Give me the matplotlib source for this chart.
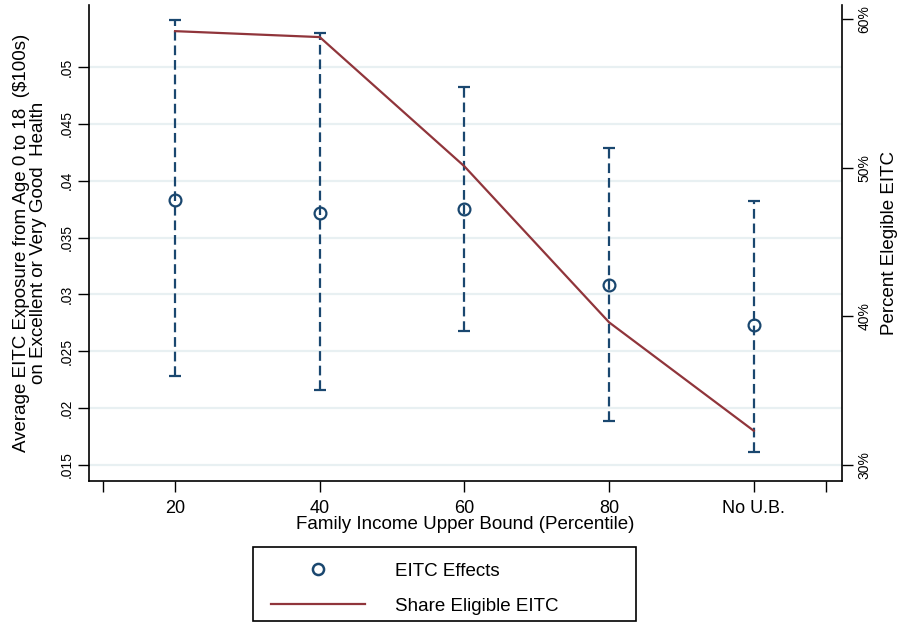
import numpy as np
import matplotlib.pyplot as plt
from matplotlib.patches import Rectangle
from matplotlib.lines import Line2D

plt.rcParams['font.family'] = ['Liberation Sans', 'DejaVu Sans']
plt.rcParams['lines.scale_dashes'] = False

# data
categories = ['20', '40', '60', '80', 'No U.B.']
effect = [0.0383, 0.0372, 0.0375, 0.0308, 0.0273]
ci_low = [0.0228, 0.0216, 0.0268, 0.0189, 0.0161]
ci_high = [0.0541, 0.0530, 0.0482, 0.0429, 0.0382]
share_eligible = [59.2, 58.8, 50.1, 39.6, 32.3]

left_ticks = [0.015, 0.02, 0.025, 0.03, 0.035, 0.04, 0.045, 0.05]
left_labels = ['.015', '.02', '.025', '.03', '.035', '.04', '.045', '.05']
right_ticks = [30, 40, 50, 60]
right_labels = ['30%', '40%', '50%', '60%']

navy = '#1a476f'
maroon = '#90353b'
grid_col = '#e8f0f2'

fig = plt.figure(figsize=(8.98, 6.24), dpi=100)
ax = fig.add_axes([89 / 898, 1 - 481 / 624, 753 / 898, 476 / 624])
x = np.arange(1, len(categories) + 1)

for t in left_ticks:
    ax.axhline(t, color=grid_col, lw=1.6, zorder=0)

eb = ax.errorbar(x, effect,
                 yerr=[np.array(effect) - np.array(ci_low), np.array(ci_high) - np.array(effect)],
                 fmt='o', color=navy, mfc='none', mec=navy, ms=8.5, mew=1.6,
                 elinewidth=1.6, capsize=4, capthick=1.6, zorder=3)
eb[2][0].set_linestyle((0, (7, 3.5)))

ax.set_xlim(0.405, 5.61)
ax.set_ylim(0.01359, 0.05545)
ax.set_yticks(left_ticks)
ax.set_yticklabels(left_labels, rotation=90, va='center', fontsize=10)
ax.set_xticks(list(x) + [0.5, 5.5])
ax.set_xticklabels(categories + ['', ''], fontsize=13)
ax.tick_params(axis='y', length=8, width=1, pad=3)
ax.tick_params(axis='x', length=8, width=1, pad=6)
ax.spines['top'].set_visible(False)
ax.spines['right'].set_visible(False)
for s in ['left', 'bottom']:
    ax.spines[s].set_linewidth(1.2)
ax.set_ylabel('Average EITC Exposure from Age 0 to 18  ($100s)\non Excellent or Very Good  Health',
              fontsize=13.5, labelpad=9, linespacing=1.0)
ax.set_xlabel('Family Income Upper Bound (Percentile)', fontsize=13.5, labelpad=-1)

ax2 = ax.twinx()
ax2.plot(x, share_eligible, color=maroon, lw=1.6, zorder=4)
ax2.set_ylim(28.92, 60.96)
ax2.set_yticks(right_ticks)
ax2.set_yticklabels(right_labels, rotation=90, va='center', fontsize=10)
ax2.tick_params(axis='y', length=8, width=1, pad=3)
ax2.spines['top'].set_visible(False)
ax2.spines['left'].set_visible(False)
ax2.spines['bottom'].set_visible(False)
ax2.spines['right'].set_linewidth(1.2)
ax2.set_ylabel('Percent Elegible EITC', fontsize=13.5, labelpad=7)

# legend box below the plot
fig.patches.append(Rectangle((253 / 898, 1 - 621 / 624), 383 / 898, 74 / 624,
                             transform=fig.transFigure, fill=False, ec='black', lw=1.2))
handles = [Line2D([], [], ls='none', marker='o', mfc='none', mec=navy, ms=8, mew=1.8),
           Line2D([], [], color=maroon, lw=1.6)]
fig.legend(handles, ['EITC Effects', 'Share Eligible EITC'], frameon=False,
           loc='upper left', bbox_to_anchor=(254 / 898, 1 - 546 / 624),
           fontsize=13.5, handlelength=5, handletextpad=1.6, labelspacing=0.95)

fig.savefig('out.png', dpi=100)
